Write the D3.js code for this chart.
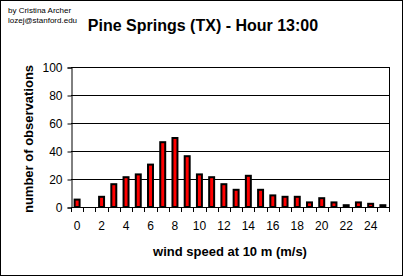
<!DOCTYPE html>
<html>
<head>
<meta charset="utf-8">
<script src="https://cdn.jsdelivr.net/npm/d3@7"></script>
<style>
  html, body { margin: 0; padding: 0; background: #fff; }
  svg { display: block; }
  text { font-family: Arial, "Liberation Sans", sans-serif; fill: #000; }
</style>
</head>
<body>
<svg id="chart" width="405" height="278"></svg>
<script>
// ---- data ----
const categories = d3.range(0, 26);
const observations = [6, 0, 8, 17, 22, 24, 31, 47, 50, 37, 24, 22, 17, 13, 23, 13, 9, 8, 8, 4, 7, 4, 2, 4, 3, 2];
const yTicks = [0, 20, 40, 60, 80, 100];
const xLabelValues = [0, 2, 4, 6, 8, 10, 12, 14, 16, 18, 20, 22, 24];
const titleText = "Pine Springs (TX) - Hour 13:00";
const authorLines = ["by Cristina Archer", "lozej@stanford.edu"];
const xTitle = "wind speed at 10 m (m/s)";
const yTitle = "number of observations";

// ---- layout ----
const svg = d3.select("#chart");
const plot = { left: 71, right: 389, top: 67, bottom: 207 };

// outer frame
svg.append("rect")
  .attr("x", 0.5).attr("y", 0.5)
  .attr("width", 402).attr("height", 275)
  .attr("fill", "#fff").attr("stroke", "#000").attr("stroke-width", 1);

const x = d3.scaleBand()
  .domain(categories)
  .range([plot.left, plot.right])
  .paddingInner(0.43)
  .paddingOuter(0.215);

const y = d3.scaleLinear()
  .domain([0, 100])
  .range([plot.bottom, plot.top]);

// gridlines
svg.append("g")
  .selectAll("line")
  .data(yTicks.filter(d => d > 0))
  .join("line")
  .attr("x1", plot.left).attr("x2", plot.right)
  .attr("y1", d => Math.round(y(d)) + 0.5).attr("y2", d => Math.round(y(d)) + 0.5)
  .attr("stroke", "#000").attr("stroke-width", 1);

// right border of plot area
svg.append("line")
  .attr("x1", plot.right + 0.5).attr("x2", plot.right + 0.5)
  .attr("y1", y(100)).attr("y2", y(0))
  .attr("stroke", "#000");

// y axis
const yAxis = d3.axisLeft(y).tickValues(yTicks).tickSize(4).tickPadding(5);
const gy = svg.append("g")
  .attr("transform", `translate(${plot.left + 0.5},0.5)`)
  .call(yAxis);
gy.select(".domain").attr("stroke", "#000");
gy.selectAll(".tick line").attr("stroke", "#000");
gy.selectAll(".tick text")
  .attr("font-size", 12)
  .attr("font-family", "Arial, 'Liberation Sans', sans-serif")
  .attr("fill", "#000")
  .attr("dy", "0.36em");

// x axis line
svg.append("line")
  .attr("x1", plot.left).attr("x2", plot.right + 1)
  .attr("y1", Math.round(y(0)) + 0.5).attr("y2", Math.round(y(0)) + 0.5)
  .attr("stroke", "#000");

// x ticks at category boundaries
const step = x.step();
const boundaries = d3.range(0, categories.length + 1).map(i => x(categories[0]) - x.paddingOuter() * step + i * step);
svg.append("g")
  .selectAll("line")
  .data(boundaries)
  .join("line")
  .attr("x1", d => Math.round(d) + 0.5).attr("x2", d => Math.round(d) + 0.5)
  .attr("y1", Math.round(y(0))).attr("y2", Math.round(y(0)) + 5)
  .attr("stroke", "#000");

// x labels
svg.append("g")
  .selectAll("text")
  .data(xLabelValues)
  .join("text")
  .attr("x", d => x(d) + x.bandwidth() / 2)
  .attr("y", 230)
  .attr("text-anchor", "middle")
  .attr("font-size", 12)
  .text(d => d);

// bars
svg.append("g")
  .selectAll("rect")
  .data(categories.map((c, i) => ({ c, v: observations[i] })).filter(d => d.v > 0))
  .join("rect")
  .attr("x", d => x(d.c) + 1)
  .attr("y", d => y(d.v) + 1)
  .attr("width", x.bandwidth() - 2)
  .attr("height", d => Math.max(0, y(0) - y(d.v) - 1))
  .attr("fill", "#ff0000")
  .attr("stroke", "#000")
  .attr("stroke-width", 2);

// titles
svg.append("text")
  .attr("x", 203).attr("y", 31)
  .attr("text-anchor", "middle")
  .attr("font-size", 16)
  .attr("font-weight", "bold")
  .text(titleText);

svg.append("g")
  .selectAll("text")
  .data(authorLines)
  .join("text")
  .attr("x", 8)
  .attr("y", (d, i) => 13 + i * 10)
  .attr("font-size", 8)
  .text(d => d);

svg.append("text")
  .attr("x", 230).attr("y", 256)
  .attr("text-anchor", "middle")
  .attr("font-size", 13)
  .attr("font-weight", "bold")
  .text(xTitle);

svg.append("text")
  .attr("transform", "translate(33,139) rotate(-90)")
  .attr("text-anchor", "middle")
  .attr("font-size", 13)
  .attr("font-weight", "bold")
  .text(yTitle);
</script>
</body>
</html>
